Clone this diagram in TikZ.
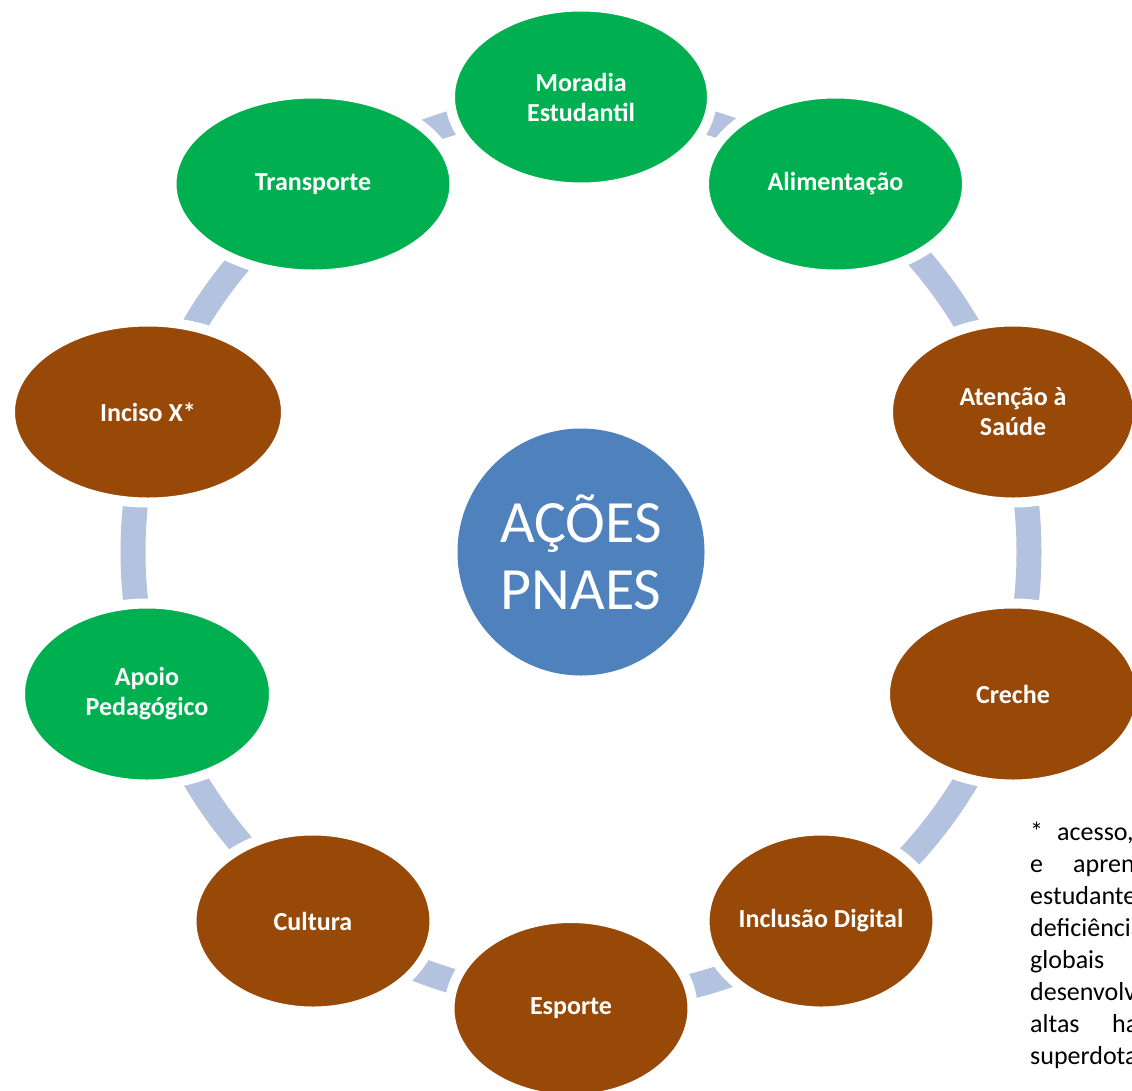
\documentclass[tikz,border=0pt]{standalone}
\usepackage{fontspec}
\setmainfont{Carlito}
\usetikzlibrary{shapes.geometric}
\definecolor{pgreen}{HTML}{00B050}
\definecolor{pbrown}{HTML}{984807}
\definecolor{pblue}{HTML}{4F81BD}
\definecolor{pring}{HTML}{B3C2DE}
\begin{document}
\begin{tikzpicture}[x=1pt,y=-1pt,
  item/.style={ellipse, draw=white, line width=10pt, inner sep=0pt, outer sep=0pt,
    minimum height=181pt, text=white, align=center,
    font=\fontsize{26}{30}\selectfont\bfseries},
  gitem/.style={item, fill=pgreen},
  bitem/.style={item, fill=pbrown},
  hub/.style={circle, fill=pblue, inner sep=0pt, minimum size=247pt, text=white,
    align=center, font=\fontsize{60}{67}\selectfont},
  ring/.style={draw=pring, line width=25pt},
  note/.style={inner sep=0pt, anchor=base west, font=\fontsize{26}{32}\selectfont}]
\useasboundingbox (0,0) rectangle (1132,1090);
\clip (0,0) rectangle (1132,1090);
\fill[white] (0,0) rectangle (1132,1090);
\coordinate (ctr) at (581,552);
\draw[ring] (ctr) circle[radius=448pt];

\node[gitem, minimum width=262pt] (mor) at (581,97) {Moradia\\Estudantil};
\node[gitem, minimum width=263pt] (ali) at (835.5,184) {Alimentação};
\node[bitem, minimum width=250pt] (ate) at (1013,412) {Atenção à\\Saúde};
\node[bitem, minimum width=256pt] (cre) at (1013,694) {Creche};
\node[bitem, minimum width=230pt] (inc) at (821,921) {Inclusão Digital};
\node[bitem, minimum width=243pt] (esp) at (571,1008.5) {Esporte};
\node[bitem, minimum width=243pt] (cul) at (313,921) {Cultura};
\node[gitem, minimum width=254pt] (apo) at (147,694) {Apoio\\Pedagógico};
\node[bitem, minimum width=276pt] (ins) at (148,412) {Inciso X*};
\node[gitem, minimum width=283pt] (tra) at (313,184) {Transporte};

\node[hub] (hub) at (ctr) {AÇÕES\\PNAES};

\node[note] (n1) at (1030,840) {\rlap{*}\hspace{27pt}acesso,};
\node[note] (n2) at (1030,872) {\rlap{e}\hspace{43pt}aprendizagem};
\node[note] (n3) at (1030,904) {estudantes};
\node[note] (n4) at (1030,936) {deficiência,};
\node[note] (n5) at (1030,968) {globais};
\node[note] (n6) at (1030,1000) {desenvolvimento};
\node[note] (n7) at (1030,1032) {\rlap{altas}\hspace{82pt}habilidades};
\node[note] (n8) at (1030,1064) {superdotação};
\end{tikzpicture}
\end{document}
